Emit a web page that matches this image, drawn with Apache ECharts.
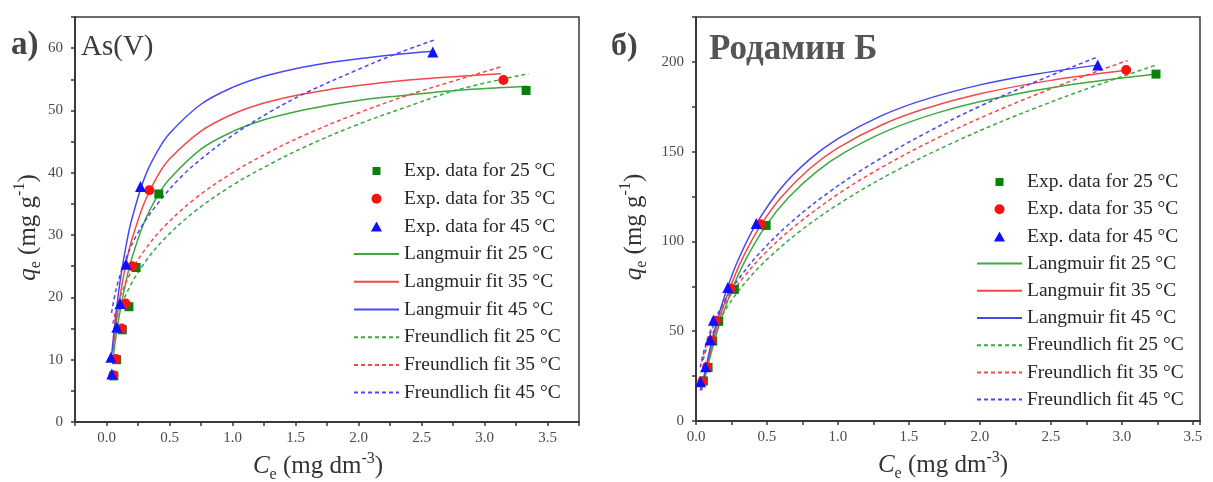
<!DOCTYPE html>
<html>
<head>
<meta charset="utf-8">
<script src="https://cdn.jsdelivr.net/npm/echarts@6/dist/echarts.min.js"></script>
<style>
  html, body { margin: 0; padding: 0; background: #ffffff; }
  #chart { width: 1213px; height: 482px; }
</style>
</head>
<body>
<div id="chart"></div>
<script>
// ---------- As(V): experimental points ----------
const asCe25 = [0.058, 0.08, 0.125, 0.178, 0.235, 0.415, 3.33];
const asQ25  = [7.4, 10.0, 14.8, 18.5, 24.8, 36.6, 53.2];
const asCe35 = [0.055, 0.075, 0.12, 0.152, 0.205, 0.34, 3.15];
const asQ35  = [7.5, 10.1, 15.0, 19.0, 25.0, 37.2, 54.9];
const asCe45 = [0.042, 0.035, 0.082, 0.108, 0.155, 0.27, 2.59];
const asQ45  = [7.7, 10.4, 15.2, 19.0, 25.3, 37.8, 59.4];

// ---------- As(V): Langmuir curves ----------
const asLangCe25 = [0.055, 0.1, 0.15, 0.2, 0.3, 0.4, 0.5, 0.75, 1.0, 1.25, 1.5, 1.75, 2.0, 2.3, 2.6, 2.9, 3.34];
const asLang25   = [10.8, 16.9, 22.1, 26.2, 32.1, 36.1, 39.0, 43.8, 46.6, 48.5, 49.8, 50.8, 51.6, 52.3, 52.9, 53.4, 53.9];
const asLangCe35 = [0.05, 0.08, 0.12, 0.16, 0.2, 0.3, 0.4, 0.5, 0.75, 1.0, 1.25, 1.5, 1.75, 2.0, 2.3, 2.6, 2.9, 3.13];
const asLang35   = [11.3, 16.4, 21.7, 25.9, 29.2, 35.2, 39.3, 42.2, 46.7, 49.4, 51.2, 52.4, 53.3, 54.0, 54.7, 55.2, 55.6, 55.9];
const asLangCe45 = [0.04, 0.08, 0.12, 0.16, 0.2, 0.3, 0.4, 0.5, 0.75, 1.0, 1.25, 1.5, 1.75, 2.0, 2.3, 2.6];
const asLang45   = [10.6, 18.3, 24.2, 28.8, 32.5, 39.1, 43.3, 46.3, 51.0, 53.7, 55.5, 56.7, 57.6, 58.3, 59.0, 59.5];

// ---------- As(V): Freundlich curves ----------
const asFrCe25 = [0.055, 0.1, 0.2, 0.3, 0.45, 0.7, 1.0, 1.3, 1.6, 2.0, 2.4, 2.8, 3.35];
const asFr25   = [14.6, 17.8, 22.3, 25.5, 29.2, 33.8, 38.0, 41.4, 44.4, 47.8, 50.7, 53.4, 55.9];
const asFrCe35 = [0.05, 0.1, 0.2, 0.3, 0.45, 0.7, 1.0, 1.3, 1.6, 2.0, 2.4, 2.8, 3.13];
const asFr35   = [15.8, 19.6, 24.3, 27.5, 31.2, 35.8, 40.0, 43.4, 46.3, 49.6, 52.5, 55.0, 57.0];
const asFrCe45 = [0.04, 0.08, 0.15, 0.25, 0.4, 0.6, 0.8, 1.0, 1.3, 1.6, 2.0, 2.3, 2.6];
const asFr45   = [17.5, 21.6, 26.0, 30.4, 34.9, 39.5, 43.0, 46.0, 49.8, 53.0, 56.6, 59.1, 61.3];

// ---------- Rhodamine B: experimental points ----------
const rbCe25 = [0.052, 0.085, 0.118, 0.16, 0.27, 0.494, 3.24];
const rbQ25  = [22.3, 29.8, 44.5, 55.5, 73.3, 108.9, 193.2];
const rbCe35 = [0.045, 0.078, 0.11, 0.14, 0.245, 0.455, 3.03];
const rbQ35  = [22.0, 30.0, 44.8, 55.8, 73.8, 109.6, 195.5];
const rbCe45 = [0.032, 0.067, 0.1, 0.123, 0.224, 0.424, 2.83];
const rbQ45  = [21.8, 30.2, 45.4, 56.1, 74.3, 110.0, 198.3];

// ---------- Rhodamine B: Langmuir curves ----------
const rbLangCe25 = [0.05, 0.08, 0.12, 0.17, 0.26, 0.35, 0.49, 0.65, 0.85, 1.05, 1.35, 1.7, 2.1, 2.6, 3.24];
const rbLang25   = [19.6, 29.7, 41.8, 55.0, 74.5, 89.9, 108.5, 124.3, 138.9, 149.7, 161.7, 171.6, 179.6, 186.8, 193.2];
const rbLangCe35 = [0.04, 0.07, 0.11, 0.16, 0.24, 0.33, 0.45, 0.6, 0.8, 1.0, 1.3, 1.6, 2.0, 2.5, 3.03];
const rbLang35   = [17.0, 28.2, 41.4, 55.6, 74.3, 91.0, 108.3, 124.6, 140.5, 152.1, 164.6, 173.6, 182.2, 189.7, 195.3];
const rbLangCe45 = [0.03, 0.06, 0.1, 0.15, 0.22, 0.3, 0.42, 0.6, 0.8, 1.0, 1.3, 1.6, 2.0, 2.4, 2.83];
const rbLang45   = [17.0, 26.2, 40.7, 56.1, 73.9, 90.2, 109.2, 129.8, 145.7, 157.3, 169.8, 178.7, 187.2, 193.3, 198.2];

// ---------- Rhodamine B: Freundlich curves ----------
const rbFrCe25 = [0.05, 0.08, 0.12, 0.17, 0.26, 0.36, 0.5, 0.75, 1.05, 1.4, 1.8, 2.2, 2.7, 3.24];
const rbFr25   = [34.0, 41.5, 49.2, 57.0, 68.2, 78.3, 90.0, 106.8, 123.1, 139.0, 154.6, 168.3, 183.5, 198.2];
const rbFrCe35 = [0.04, 0.07, 0.11, 0.16, 0.24, 0.34, 0.48, 0.7, 1.0, 1.3, 1.7, 2.1, 2.6, 3.04];
const rbFr35   = [33.0, 41.7, 50.3, 58.8, 69.7, 80.5, 93.0, 108.8, 126.3, 140.9, 157.6, 172.1, 188.1, 200.8];
const rbFrCe45 = [0.03, 0.06, 0.1, 0.15, 0.22, 0.32, 0.45, 0.65, 0.9, 1.2, 1.6, 2.0, 2.4, 2.83];
const rbFr45   = [30.0, 40.2, 49.8, 59.1, 69.4, 81.2, 93.7, 109.3, 125.3, 141.4, 159.6, 175.3, 189.2, 202.8];

// ---------- legend names ----------
const expNames  = ['Exp. data for 25 °C', 'Exp. data for 35 °C', 'Exp. data for 45 °C'];
const langNames = ['Langmuir fit 25 °C', 'Langmuir fit 35 °C', 'Langmuir fit 45 °C'];
const freuNames = ['Freundlich fit 25 °C', 'Freundlich fit 35 °C', 'Freundlich fit 45 °C'];

const SERIF = 'Liberation Serif';
const markerColors = ['#0a7f0a', '#ff1010', '#1010ff'];
const lineColors   = ['#3da83d', '#f24848', '#4848f2'];
const markerShapes = ['rect', 'circle', 'triangle'];
const markerSizes  = [9, 10, 11];
// legend icons for the point series: square, circle, triangle
const legendIcons  = ['path://M-1,-1M9,9M0,0H8V8H0Z', 'circle', 'path://M5,0L10,9H0Z'];

const zip = (xs, ys) => xs.map((x, i) => [x, ys[i]]);

function panelSeries(gi, exp, lang, freu) {
  const out = [];
  for (let k = 0; k < 3; k++) {
    out.push({
      name: langNames[k], type: 'line', xAxisIndex: gi, yAxisIndex: gi,
      data: zip(lang[k][0], lang[k][1]), smooth: 0.35,
      symbol: 'none', z: 2, silent: true,
      lineStyle: { color: lineColors[k], width: 1.5, type: 'solid' },
      itemStyle: { color: lineColors[k] }
    });
    out.push({
      name: freuNames[k], type: 'line', xAxisIndex: gi, yAxisIndex: gi,
      data: zip(freu[k][0], freu[k][1]), smooth: 0.35,
      symbol: 'none', z: 2, silent: true,
      lineStyle: { color: lineColors[k], width: 1.5, type: [4, 3] },
      itemStyle: { color: lineColors[k] }
    });
  }
  for (let k = 0; k < 3; k++) {
    out.push({
      name: expNames[k], type: 'scatter', xAxisIndex: gi, yAxisIndex: gi,
      data: zip(exp[k][0], exp[k][1]), symbol: markerShapes[k],
      symbolSize: markerSizes[k], z: 3, silent: true,
      itemStyle: { color: markerColors[k], opacity: 1 }
    });
  }
  return out;
}

const tickLabel = { fontFamily: SERIF, fontSize: 15, color: '#4a4a4a' };
const nameRich = {
  i:   { fontFamily: SERIF, fontSize: 25, fontStyle: 'italic', color: '#333', lineHeight: 32 },
  sub: { fontFamily: SERIF, fontSize: 16, color: '#333', lineHeight: 16, verticalAlign: 'bottom' },
  sup: { fontFamily: SERIF, fontSize: 16, color: '#333', lineHeight: 16, verticalAlign: 'top' }
};
const nameStyle = (pad) => ({ fontFamily: SERIF, fontSize: 25, color: '#333', lineHeight: 32, padding: pad, rich: nameRich });
const axisLine = { show: true, onZero: false, lineStyle: { color: '#3a3a3a', width: 2 } };
const axisTick = { show: true, inside: false, length: 4, lineStyle: { color: '#3a3a3a', width: 1.5 } };

const onStep = (v, step) => Math.abs(v / step - Math.round(v / step)) < 1e-6;

function xAxisFor(gi, min, max, pad) {
  return {
    type: 'value', gridIndex: gi, min: min, max: max, interval: 0.25,
    name: '{i|C}{sub|e} (mg dm{sup|-3})', nameLocation: 'middle', nameGap: 27,
    nameTextStyle: nameStyle(pad),
    axisLine: axisLine, axisTick: axisTick, splitLine: { show: false },
    axisLabel: Object.assign({ margin: 9, formatter: v => onStep(v, 0.5) ? v.toFixed(1) : '' }, tickLabel)
  };
}
function yAxisFor(gi, max, minorStep, majorStep, gap) {
  return {
    type: 'value', gridIndex: gi, min: 0, max: max, interval: minorStep,
    name: '{i|q}{sub|e} (mg g{sup|-1})', nameLocation: 'middle', nameGap: gap, nameRotate: 90,
    nameTextStyle: nameStyle([0, 16, 0, 0]),
    axisLine: axisLine, axisTick: axisTick, splitLine: { show: false },
    axisLabel: Object.assign({ margin: 12, formatter: v => onStep(v, majorStep) ? String(v) : '' }, tickLabel)
  };
}

function legendData() {
  return expNames.map((n, k) => ({ name: n, icon: legendIcons[k] }))
    .concat(langNames.concat(freuNames).map(n => ({ name: n, itemStyle: { opacity: 0 } })));
}

function legendFor(left, top, gap) {
  return {
    orient: 'vertical', left: left, top: top, padding: 0, itemWidth: 45, itemHeight: 10,
    itemGap: gap, selectedMode: false, symbolKeepAspect: true, data: legendData(),
    textStyle: { fontFamily: SERIF, fontSize: 19.5, color: '#262626', lineHeight: 22 }
  };
}

const gridBase = { show: true, borderColor: '#3a3a3a', borderWidth: 1.5, backgroundColor: 'transparent',
                   containLabel: false, outerBoundsMode: 'none' };

const chart = echarts.init(document.getElementById('chart'), null, { renderer: 'canvas' });
chart.setOption({
  animation: false,
  backgroundColor: '#ffffff',
  title: [
    { text: 'а)', left: 11, top: 29, padding: 0, textStyle: { fontFamily: SERIF, fontSize: 33, fontWeight: 'bold', color: '#444' } },
    { text: 'As(V)', left: 81, top: 33, padding: 0, textStyle: { fontFamily: SERIF, fontSize: 29, fontWeight: 'normal', color: '#3a3a3a' } },
    { text: 'б)', left: 611, top: 31, padding: 0, textStyle: { fontFamily: SERIF, fontSize: 32, fontWeight: 'bold', color: '#444' } },
    { text: 'Родамин Б', left: 709, top: 32, padding: 0, textStyle: { fontFamily: SERIF, fontSize: 35, fontWeight: 'bold', color: '#555' } }
  ],
  legend: [legendFor(353, 160, 5.7), legendFor(976, 171, 5.2)],
  grid: [
    Object.assign({ left: 75, top: 17, width: 504, height: 405 }, gridBase),
    Object.assign({ left: 696, top: 17, width: 504, height: 404 }, gridBase)
  ],
  xAxis: [xAxisFor(0, -0.25, 3.75, [0, 18, 0, 0]), xAxisFor(1, 0, 3.55, [0, 10, 0, 0])],
  yAxis: [yAxisFor(0, 65, 5, 10, 27), yAxisFor(1, 225, 25, 50, 46)],
  series: panelSeries(0,
      [[asCe25, asQ25], [asCe35, asQ35], [asCe45, asQ45]],
      [[asLangCe25, asLang25], [asLangCe35, asLang35], [asLangCe45, asLang45]],
      [[asFrCe25, asFr25], [asFrCe35, asFr35], [asFrCe45, asFr45]])
    .concat(panelSeries(1,
      [[rbCe25, rbQ25], [rbCe35, rbQ35], [rbCe45, rbQ45]],
      [[rbLangCe25, rbLang25], [rbLangCe35, rbLang35], [rbLangCe45, rbLang45]],
      [[rbFrCe25, rbFr25], [rbFrCe35, rbFr35], [rbFrCe45, rbFr45]]))
});
</script>
</body>
</html>
